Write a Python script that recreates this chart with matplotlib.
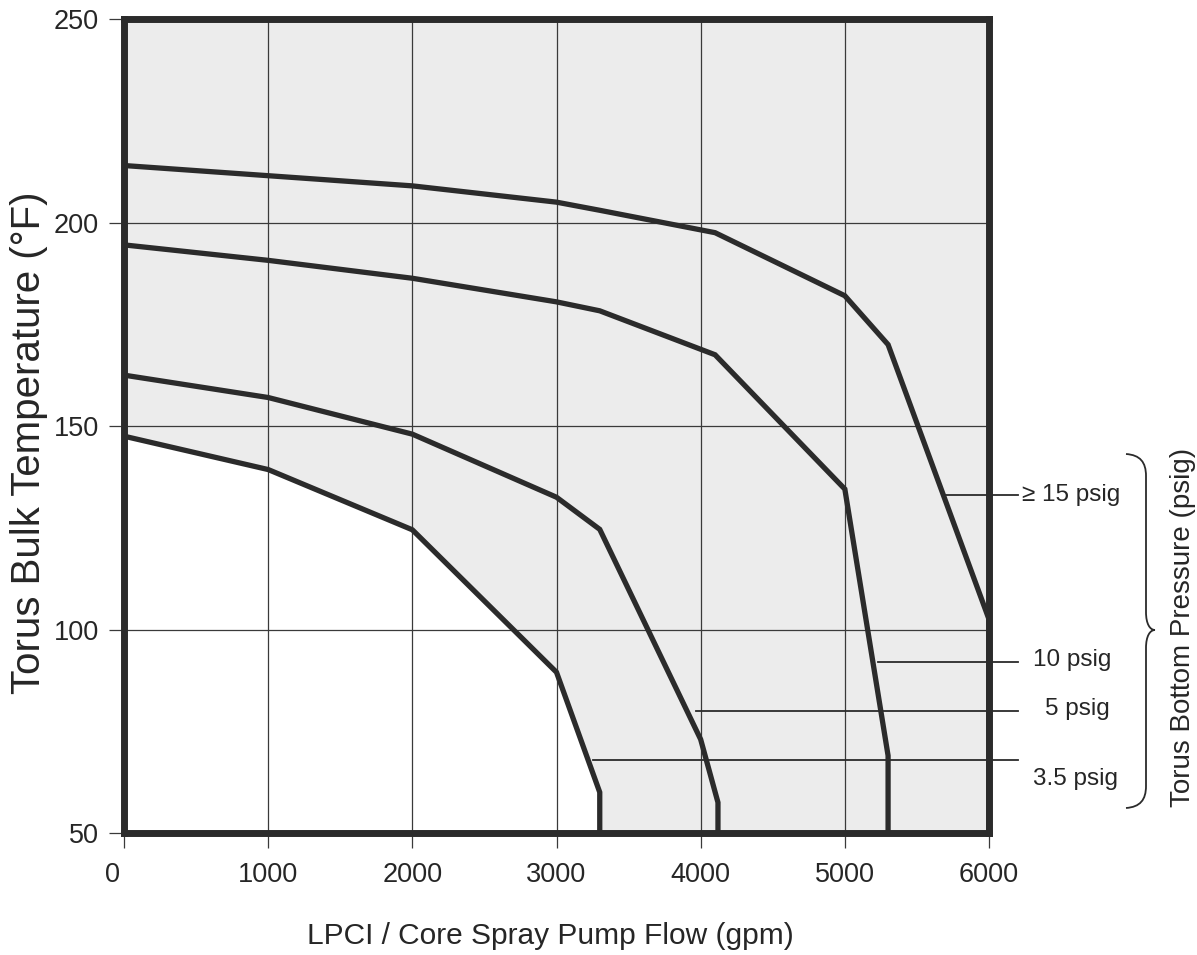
import numpy as np
import matplotlib
matplotlib.use("Agg")
import matplotlib.pyplot as plt
from matplotlib.path import Path
from matplotlib.patches import PathPatch
from matplotlib.transforms import blended_transform_factory, ScaledTranslation
from matplotlib import font_manager as fm

# ---------------- data ----------------
x_ticks = [0, 1000, 2000, 3000, 4000, 5000, 6000]
x_tick_labels = ["0", "1000", "2000", "3000", "4000", "5000", "6000"]
y_ticks = [50, 100, 150, 200, 250]
y_tick_labels = ["50", "100", "150", "200", "250"]

# >= 15 psig
flow_15 = [0, 1000, 2000, 3000, 3300, 4100, 5000, 5300, 6000, 6000]
temp_15 = [214, 211.5, 209, 205, 203, 197.5, 182, 170, 102.5, 50]
# 10 psig
flow_10 = [0, 1000, 2000, 3000, 3300, 4100, 5000, 5300, 5300]
temp_10 = [194.5, 190.7, 186.3, 180.5, 178.3, 167.5, 134.5, 69, 50]
# 5 psig
flow_5 = [0, 1000, 2000, 3000, 3300, 4000, 4120, 4120]
temp_5 = [162.5, 157, 148, 132.5, 124.6, 73, 57.5, 50]
# 3.5 psig
flow_3p5 = [0, 1000, 2000, 3000, 3300, 3300]
temp_3p5 = [147.5, 139.3, 124.5, 89.5, 60, 50]

curves_flow = [flow_15, flow_10, flow_5, flow_3p5]
curves_temp = [temp_15, temp_10, temp_5, temp_3p5]

pressure_labels = ["\u2265 15 psig", "10 psig", "5 psig", "3.5 psig"]
leader_y = [133, 92, 80, 68]
leader_x0 = [5700, 5230, 3970, 3250]
label_y = [133, 92.5, 80.5, 63.3]

# ---------------- style ----------------
W, H = 1197, 955
names = {f.name for f in fm.fontManager.ttflist}
plt.rcParams['font.family'] = ['Liberation Sans', 'DejaVu Sans']
tick_family = ['Liberation Sans Narrow', 'Liberation Sans', 'DejaVu Sans'] \
    if 'Liberation Sans Narrow' in names else ['Liberation Sans', 'DejaVu Sans']
tick_size = 22 if 'Liberation Sans Narrow' in names else 19.5

INK = '#2b2b2b'
TXT = '#262626'
GRAY = '#ececec'

fig = plt.figure(figsize=(W / 100, H / 100), dpi=100)
fig.patch.set_facecolor('white')


def fx(px):
    return px / W


def fy(py):
    return 1 - py / H


ax = fig.add_axes([fx(124), fy(833), (989 - 124) / W, (833 - 19) / H])
ax.set_xlim(0, 6000)
ax.set_ylim(50, 250)
ax.set_facecolor(GRAY)

# white region under the lowest curve
ax.fill(np.r_[flow_3p5, 0], np.r_[temp_3p5, 50], color='white', lw=0, zorder=1)

ax.set_xticks(x_ticks)
ax.set_xticklabels(x_tick_labels)
ax.set_yticks(y_ticks)
ax.set_yticklabels(y_tick_labels)
ax.grid(True, color='#3a3a3a', lw=0.9)
ax.set_axisbelow('line')
ax.tick_params(length=11, width=0.9, color='#3a3a3a', direction='out', pad=7,
               labelsize=tick_size, labelcolor=TXT)
ax.tick_params(axis='x', pad=10)
for lbl in ax.get_xticklabels() + ax.get_yticklabels():
    lbl.set_family(tick_family)

for sp in ax.spines.values():
    sp.set_linewidth(5)
    sp.set_color(INK)
    sp.set_zorder(5)

for fl, tp in zip(curves_flow, curves_temp):
    ax.plot(fl, tp, color=INK, lw=3.8, solid_joinstyle='miter', zorder=3)

# leader lines and pressure labels
x_end = 6200
trans = blended_transform_factory(fig.transFigure, ax.transData)
label_left_px = [1022, 1033, 1045, 1033]
for y0, x0, ly, txt, lp in zip(leader_y, leader_x0, label_y, pressure_labels, label_left_px):
    ax.plot([x0, x_end], [y0, y0], color=INK, lw=1.3, clip_on=False, zorder=3)
    ax.text(fx(lp), ly, txt, transform=trans, ha='left', va='center',
            fontsize=17.5, color=TXT)

# brace
P = lambda x, y: (fx(x), fy(y))
verts = [P(1126, 454),
         P(1140, 455), P(1146, 462), P(1146, 476),
         P(1146, 612),
         P(1146, 624), P(1150, 630), P(1155, 630),
         P(1150, 630), P(1146, 636), P(1146, 648),
         P(1146, 786),
         P(1146, 800), P(1140, 807), P(1126, 808)]
codes = [Path.MOVETO,
         Path.CURVE4, Path.CURVE4, Path.CURVE4,
         Path.LINETO,
         Path.CURVE4, Path.CURVE4, Path.CURVE4,
         Path.CURVE4, Path.CURVE4, Path.CURVE4,
         Path.LINETO,
         Path.CURVE4, Path.CURVE4, Path.CURVE4]
fig.patches.append(PathPatch(Path(verts, codes), transform=fig.transFigure,
                             fill=False, lw=1.3, edgecolor=INK))

fig.text(fx(1183), fy(627), 'Torus Bottom Pressure (psig)', rotation=90,
         ha='center', va='center', fontsize=20, color=TXT)

ax.set_xlabel('LPCI / Core Spray Pump Flow (gpm)', fontsize=21.5, color=TXT)
ax.xaxis.set_label_coords(0.4925, -0.109)
ax.set_ylabel('Torus Bulk Temperature (\u00b0F)', fontsize=29, color=TXT)
ax.yaxis.set_label_coords(-0.088, 0.479)

# the "0" label sits a little left of its tick in the original
t0 = ax.xaxis.get_major_ticks()[0]
t0.label1.set_transform(t0.label1.get_transform() +
                        ScaledTranslation(-0.12, 0, fig.dpi_scale_trans))

fig.savefig('out.png', dpi=100, facecolor='white')
